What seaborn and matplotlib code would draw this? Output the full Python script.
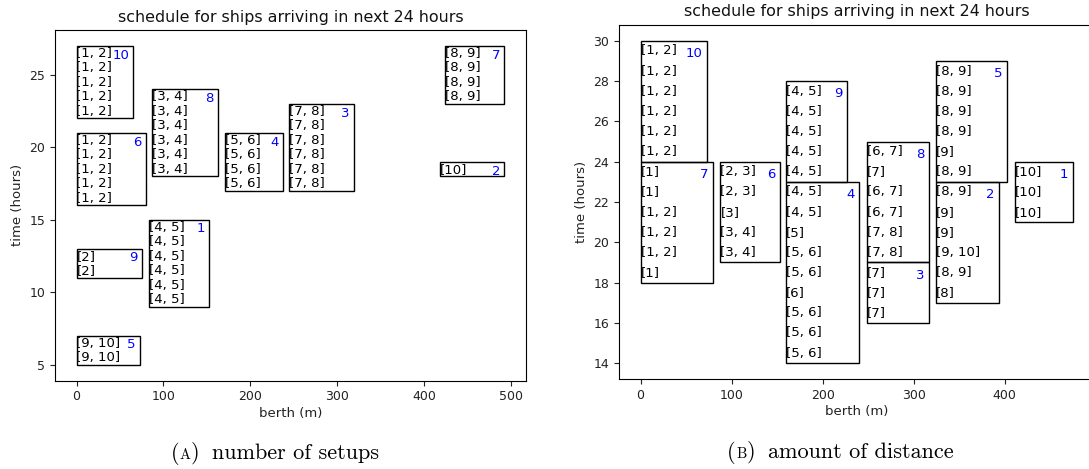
import matplotlib
matplotlib.use("Agg")
import matplotlib.pyplot as plt
from matplotlib.patches import Rectangle
import seaborn as sns

# ---- panel (a): number of setups ----
ships_a = [10, 6, 9, 5, 1, 8, 4, 3, 7, 2]
berth_a = [0, 0, 0, 0, 83, 87, 171, 244.5, 423.5, 418]
length_a = [65.5, 80, 75.5, 72.5, 69.5, 76, 66.5, 74, 68.5, 74]
start_a = [22, 16, 11, 5, 9, 18, 17, 17, 23, 18]
end_a = [27, 21, 13, 7, 15, 24, 21, 23, 27, 19]
cranes_a = [
    ["[1, 2]"] * 5,
    ["[1, 2]"] * 5,
    ["[2]"] * 2,
    ["[9, 10]"] * 2,
    ["[4, 5]"] * 6,
    ["[3, 4]"] * 6,
    ["[5, 6]"] * 4,
    ["[7, 8]"] * 6,
    ["[8, 9]"] * 4,
    ["[10]"],
]

# ---- panel (b): amount of distance ----
ships_b = [10, 7, 6, 9, 4, 8, 3, 5, 2, 1]
berth_b = [0, 0, 87.8, 160, 160, 248.5, 248.5, 324.8, 324.8, 411.5]
length_b = [72.9, 79.4, 65.3, 67.2, 80, 68.7, 68.7, 77.9, 69.1, 63.7]
start_b = [24, 18, 19, 23, 14, 19, 16, 23, 17, 21]
end_b = [30, 24, 24, 28, 23, 25, 19, 29, 23, 24]
cranes_b = [
    ["[1, 2]"] * 6,
    ["[1]", "[1]", "[1, 2]", "[1, 2]", "[1, 2]", "[1]"],
    ["[2, 3]", "[2, 3]", "[3]", "[3, 4]", "[3, 4]"],
    ["[4, 5]"] * 5,
    ["[4, 5]", "[4, 5]", "[5]", "[5, 6]", "[5, 6]", "[6]", "[5, 6]", "[5, 6]", "[5, 6]"],
    ["[6, 7]", "[7]", "[6, 7]", "[6, 7]", "[7, 8]", "[7, 8]"],
    ["[7]"] * 3,
    ["[8, 9]"] * 4 + ["[9]", "[8, 9]"],
    ["[8, 9]", "[9]", "[9]", "[9, 10]", "[8, 9]", "[8]"],
    ["[10]"] * 3,
]

TITLE = "schedule for ships arriving in next 24 hours"

sns.set_theme(style="ticks", rc={
    "axes.linewidth": 0.8,
    "axes.edgecolor": "black",
    "xtick.major.size": 3.5,
    "ytick.major.size": 3.5,
    "xtick.major.width": 0.8,
    "ytick.major.width": 0.8,
    "xtick.color": "#222222",
    "ytick.color": "#222222",
    "text.color": "#111111",
    "axes.labelcolor": "#222222",
})
plt.rcParams["font.family"] = ["DejaVu Sans"]
plt.rcParams["axes.titlesize"] = 11.4
plt.rcParams["axes.labelsize"] = 9.5
plt.rcParams["xtick.labelsize"] = 9
plt.rcParams["ytick.labelsize"] = 9

W, H = 1089, 469
fig = plt.figure(figsize=(W / 100, H / 100), dpi=100)
ax_a = fig.add_axes([55.1 / W, 1 - 380.7 / H, 470.8 / W, 350.7 / H])
ax_b = fig.add_axes([618.9 / W, 1 - 379.3 / H, 475.8 / W, 354.6 / H])


def draw_schedule(ax, ships, berth, length, start, end, cranes):
    for sid, x, w, t0, t1, rows in zip(ships, berth, length, start, end, cranes):
        ax.add_patch(Rectangle((x, t0), w, t1 - t0, fill=False,
                               edgecolor="black", linewidth=1.0))
        for i, label in enumerate(rows):
            ax.text(x, t1 - 0.5 - i, label, ha="left", va="center",
                    fontsize=9.5, color="black")
        ax.text(x + w - 5, t1 - 0.63, str(sid), ha="right", va="center",
                fontsize=9.5, color="blue")
    ax.autoscale_view()
    ax.set_title(TITLE)
    ax.set_xlabel("berth (m)", labelpad=2.5)
    ax.set_ylabel("time (hours)")


draw_schedule(ax_a, ships_a, berth_a, length_a, start_a, end_a, cranes_a)
draw_schedule(ax_b, ships_b, berth_b, length_b, start_b, end_b, cranes_b)


def draw_caption(center_px, baseline_px, letter, words):
    renderer = fig.canvas.get_renderer()
    pieces = [("(", 16), (letter, 10.5), (")", 16), (words, 16)]
    gaps = [0, 0.5, 0.5, 12]
    texts = []
    x = 0.0
    for (s, size), gap in zip(pieces, gaps):
        x += gap
        t = fig.text(x / W, 1 - baseline_px / H, s, fontsize=size,
                     family="cmr10", ha="left", va="baseline", color="black")
        bb = t.get_window_extent(renderer)
        texts.append(t)
        x = bb.x1
    shift = center_px - x / 2
    for t in texts:
        px, py = t.get_position()
        t.set_position((px + shift / W, py))


draw_caption(274.6, 458.5, "A", "number of setups")
draw_caption(840.3, 458.0, "B", "amount of distance")

fig.savefig("out.png", dpi=100)
